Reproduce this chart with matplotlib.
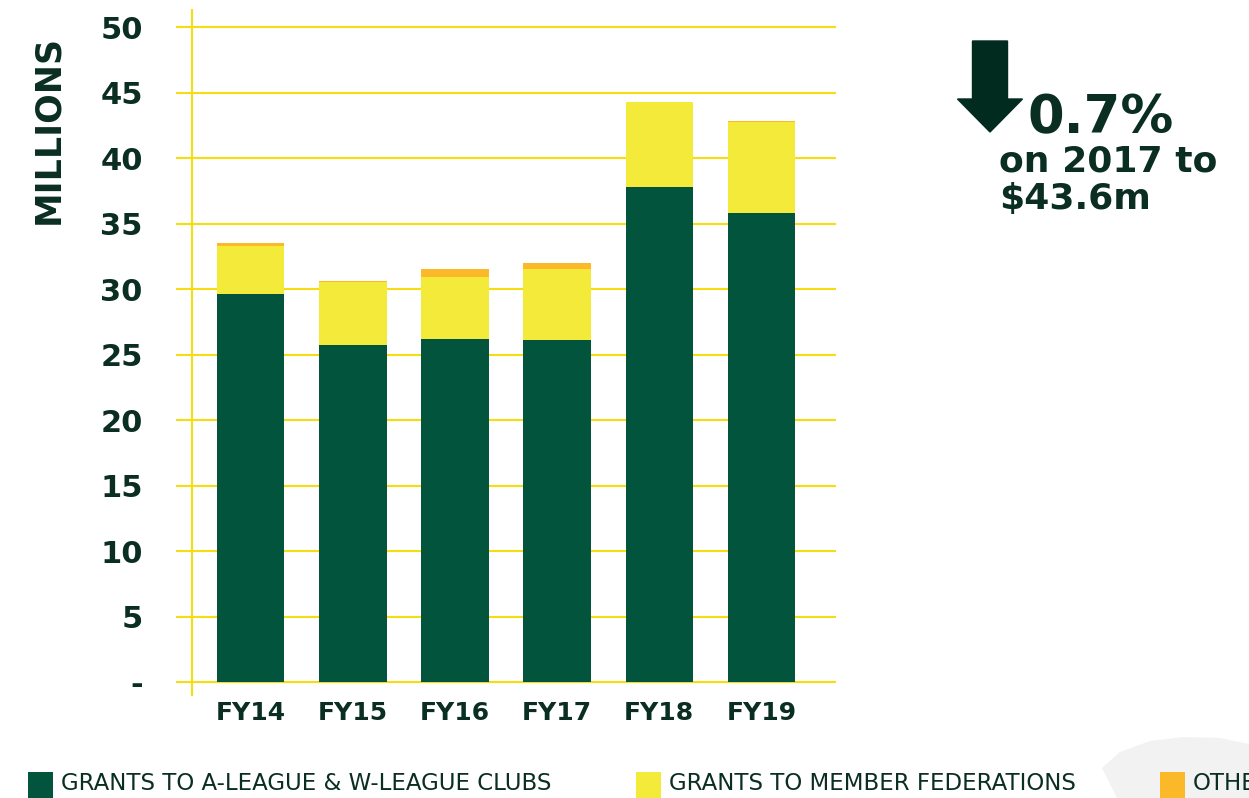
import matplotlib
matplotlib.use("Agg")
import matplotlib.pyplot as plt
from matplotlib.patches import Rectangle, Polygon, FancyArrow

# ============================================================
# Data (millions)
# ============================================================

years = ["FY14", "FY15", "FY16", "FY17", "FY18", "FY19"]
clubs = [29.6, 25.7, 26.2, 26.1, 37.8, 35.8]
federations = [3.7, 4.8, 4.7, 5.4, 6.45, 6.95]
other = [0.2, 0.1, 0.65, 0.45, 0.0, 0.1]

series_names = [
    "GRANTS TO A-LEAGUE & W-LEAGUE CLUBS",
    "GRANTS TO MEMBER FEDERATIONS",
    "OTHER",
]
yticks = [0, 5, 10, 15, 20, 25, 30, 35, 40, 45, 50]
ytick_labels = ["-"] + [str(v) for v in yticks[1:]]

# ============================================================
# Style
# ============================================================

GREEN = "#03543d"
YELLOW = "#f3ea3a"
ORANGE = "#fbb829"
GRID = "#f7dc12"
DARK = "#0b2e23"

plt.rcParams.update({
    "font.family": "DejaVu Sans",
    "figure.facecolor": "white",
    "axes.facecolor": "white",
    "savefig.facecolor": "white",
})

W, H = 1249, 798
fig = plt.figure(figsize=(W / 100, H / 100), dpi=100)

# light grey background shape, bottom right corner
shape_px = [(1117, 798), (1102, 768), (1120, 752), (1150, 741), (1183, 737),
            (1220, 738), (1249, 744), (1249, 798)]
fig.patches.append(Polygon([(px / W, 1 - py / H) for px, py in shape_px],
                           closed=True, transform=fig.transFigure,
                           facecolor="#f2f2f2", edgecolor="none", zorder=0))

ax = fig.add_axes([192 / W, 103 / H, (836 - 192) / W, (695 - 10) / H])

x = range(len(years))
w = 0.66
ax.bar(x, clubs, width=w, color=GREEN, zorder=3)
ax.bar(x, federations, width=w, bottom=clubs, color=YELLOW, zorder=3)
base3 = [a + b for a, b in zip(clubs, federations)]
ax.bar(x, other, width=w, bottom=base3, color=ORANGE, zorder=3)

ax.set_xlim(-0.574, 5.73)
ax.set_ylim(-0.99, 51.3)

ax.set_yticks(yticks)
ax.set_yticklabels(ytick_labels)
ax.set_xticks(list(x))
ax.set_xticklabels(years)

ax.grid(axis="y", color=GRID, linewidth=1.5, zorder=1)
ax.set_axisbelow(True)

for s in ["top", "right", "bottom"]:
    ax.spines[s].set_visible(False)
ax.spines["left"].set_color(GRID)
ax.spines["left"].set_linewidth(1.5)

ax.tick_params(axis="y", length=11.5, width=1.5, color=GRID, pad=24,
               labelsize=22, labelcolor=DARK)
for lbl in ax.get_yticklabels():
    lbl.set_fontweight("bold")
ax.tick_params(axis="x", length=0, pad=4, labelsize=18, labelcolor=DARK)
for lbl in ax.get_xticklabels():
    lbl.set_fontweight("bold")

fig.text(48 / W, 1 - 130 / H, "MILLIONS", rotation=90, ha="center",
         va="center", fontsize=25, fontweight="bold", color=DARK)

# ------------------------------------------------------------
# Annotation top right
# ------------------------------------------------------------
arrow = FancyArrow(990 / W, 1 - 41 / H, 0, -(132 - 41) / H,
                   width=35 / W, head_width=65 / W,
                   head_length=33 / H, length_includes_head=True,
                   transform=fig.transFigure, color="#022b20")
fig.patches.append(arrow)
fig.text(1028 / W, 1 - 133 / H, "0.7%", ha="left", va="baseline",
         fontsize=38, fontweight="bold", color=DARK)
fig.text(999 / W, 1 - 172 / H, "on 2017 to", ha="left", va="baseline",
         fontsize=26, fontweight="bold", color=DARK)
fig.text(999 / W, 1 - 209 / H, "$43.6m", ha="left", va="baseline",
         fontsize=26, fontweight="bold", color=DARK)

# ------------------------------------------------------------
# Legend (bottom, manual)
# ------------------------------------------------------------
legend_colors = [GREEN, YELLOW, ORANGE]
square_x = [28, 636, 1160]
for name, col, sx in zip(series_names, legend_colors, square_x):
    fig.patches.append(Rectangle((sx / W, 0), 25 / W, 26 / H,
                                 transform=fig.transFigure, facecolor=col,
                                 edgecolor="none"))
    fig.text((sx + 33) / W, 1 - 783 / H, name, ha="left", va="center",
             fontsize=16.5, color=DARK)

fig.savefig("out.png", dpi=100)
